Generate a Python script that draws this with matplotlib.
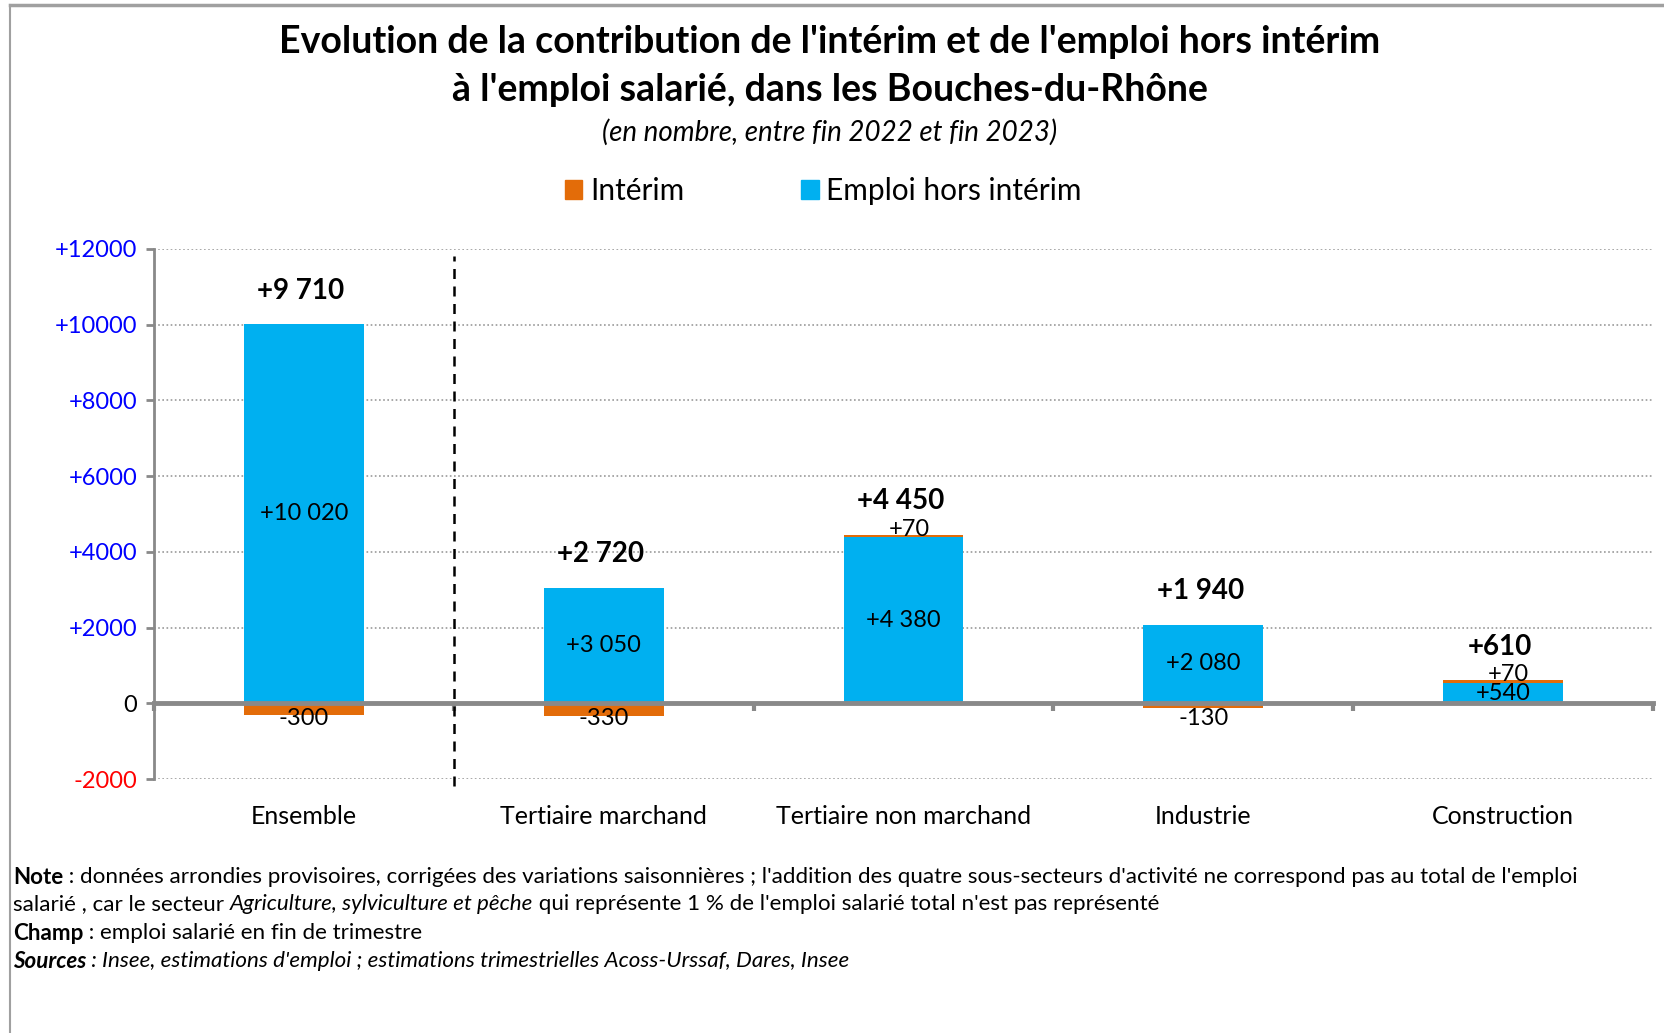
import matplotlib
matplotlib.use("Agg")
import matplotlib.pyplot as plt
from matplotlib.lines import Line2D
from matplotlib.patches import Patch
import numpy as np

plt.rcParams['font.family'] = ['Lato', 'DejaVu Sans']

# données (en nombre, entre fin 2022 et fin 2023)
categories = ["Ensemble", "Tertiaire marchand", "Tertiaire non marchand",
              "Industrie", "Construction"]
interim = [-300, -330, 70, -130, 70]
emploi_hors_interim = [10020, 3050, 4380, 2080, 540]
total = [9710, 2720, 4450, 1940, 610]

yticks = [-2000, 0, 2000, 4000, 6000, 8000, 10000, 12000]

ORANGE = "#E36C09"
BLEU = "#00B0F0"
GRIS = "#898989"


def fmt(v):
    s = "{:,}".format(abs(v)).replace(",", " ")
    return ("+" if v > 0 else "-") + s


def fmt_tick(v):
    if v > 0:
        return "+%d" % v
    return "%d" % v


fig = plt.figure(figsize=(16.64, 10.33), dpi=100)
W, H = 1664, 1033
ax = fig.add_axes([154 / W, 1 - 779 / H, (1653 - 154) / W, (779 - 249) / H])

x = np.arange(len(categories))
largeur = 0.4
emp = np.array(emploi_hors_interim)
itr = np.array(interim)
bottom_itr = np.where(itr > 0, emp, 0)
b1 = ax.bar(x, emp, largeur, color=BLEU, zorder=2)
b2 = ax.bar(x, itr, largeur, bottom=bottom_itr, color=ORANGE, zorder=2)

ax.set_xlim(-0.5, len(categories) - 0.5)
ax.set_ylim(-2000, 12000)

# axes
for s in ["top", "right"]:
    ax.spines[s].set_visible(False)
ax.spines["left"].set_color(GRIS)
ax.spines["left"].set_linewidth(2)
ax.spines["bottom"].set_position(("data", 0))
ax.spines["bottom"].set_color(GRIS)
ax.spines["bottom"].set_linewidth(3.5)
ax.spines["bottom"].set_zorder(3)

ax.set_xticks([])
ax.set_xticks(np.arange(-0.5, len(categories)), minor=True)
ax.tick_params(axis="x", which="minor", direction="out", length=6,
               width=3, color=GRIS)

ax.set_yticks(yticks)
ax.set_yticklabels([fmt_tick(v) for v in yticks])
ax.tick_params(axis="y", length=6, width=2, color=GRIS, labelsize=17, pad=6)
for lab, v in zip(ax.get_yticklabels(), yticks):
    lab.set_color("#0000FF" if v > 0 else ("#FF0000" if v < 0 else "black"))
ax.yaxis.grid(True, linestyle=(0, (1, 1.5)), color="#9a9a9a", linewidth=1.2)
ax.set_axisbelow(True)

sec = ax.secondary_xaxis("bottom")
sec.set_xticks(x)
sec.set_xticklabels(categories, fontsize=18)
sec.tick_params(length=0, pad=19)
sec.spines["bottom"].set_visible(False)

ax.axvline(0.5, ymin=-0.013, ymax=0.987, color="black", linestyle=(0, (4, 3)),
           linewidth=1.8, clip_on=False, zorder=4)

# étiquettes
for i in range(len(categories)):
    ax.text(x[i], emp[i] / 2, fmt(emp[i]), ha="center", va="center",
            fontsize=17, zorder=5)
    if itr[i] < 0:
        ax.annotate(fmt(itr[i]), (x[i], 0), xytext=(0, -11),
                    textcoords="offset points", ha="center", va="center",
                    fontsize=17, zorder=5)
    else:
        ax.annotate(fmt(itr[i]), (x[i], emp[i] + itr[i]), xytext=(4, 4),
                    textcoords="offset points", ha="center", va="center",
                    fontsize=17, zorder=5)
    haut = emp[i] + max(itr[i], 0)
    ax.annotate(fmt(total[i]), (x[i], haut), xytext=(-2, 24),
                textcoords="offset points", ha="center", va="center",
                fontsize=20, fontweight="bold", zorder=5)

# titres
fig.text(830 / W, 1 - 42 / H,
         "Evolution de la contribution de l'intérim et de l'emploi hors intérim",
         ha="center", va="center", fontsize=27, fontweight="bold")
fig.text(830 / W, 1 - 90 / H, "à l'emploi salarié, dans les Bouches-du-Rhône",
         ha="center", va="center", fontsize=27, fontweight="bold")
fig.text(830 / W, 1 - 132 / H, "(en nombre, entre fin 2022 et fin 2023)",
         ha="center", va="center", fontsize=20, style="italic")

handles = [Patch(color=ORANGE), Patch(color=BLEU)]
fig.legend(handles, ["Intérim", "Emploi hors intérim"], loc="center",
           bbox_to_anchor=(823 / W, 1 - 191 / H), ncol=2, frameon=False,
           fontsize=21.5, handlelength=0.6, handleheight=0.6, handletextpad=0.25,
           columnspacing=3.9)

# notes
renderer = fig.canvas.get_renderer()


def ligne(y, morceaux, taille=16.1):
    xp = 13
    for txt, poids, style in morceaux:
        t = fig.text(xp / W, 1 - y / H, txt, ha="left", va="center",
                     fontsize=taille, fontweight=poids, style=style)
        bb = t.get_window_extent(renderer)
        xp += bb.width


ligne(877, [("Note", "bold", "normal"),
            (" : données arrondies provisoires, corrigées des variations saisonnières ; "
             "l'addition des quatre sous-secteurs d'activité ne correspond pas au total de l'emploi",
             "normal", "normal")])
ligne(904, [("salarié , car le secteur ", "normal", "normal"),
            ("Agriculture, sylviculture et pêche", "normal", "italic"),
            (" qui représente 1 % de l'emploi salarié total n'est pas représenté",
             "normal", "normal")])
ligne(933, [("Champ", "bold", "normal"),
            (" : emploi salarié en fin de trimestre", "normal", "normal")])
ligne(961, [("Sources", "bold", "italic"),
            (" : Insee, estimations d'emploi ; estimations trimestrielles "
             "Acoss-Urssaf, Dares, Insee", "normal", "italic")])

# cadre
fig.add_artist(Line2D([10 / W, 1], [1 - 5 / H, 1 - 5 / H], color="#a0a0a0",
                      linewidth=2.5, transform=fig.transFigure))
fig.add_artist(Line2D([10 / W, 10 / W], [0, 1 - 5 / H], color="#a0a0a0",
                      linewidth=1.5, transform=fig.transFigure))

fig.savefig("out.png", dpi=100)
